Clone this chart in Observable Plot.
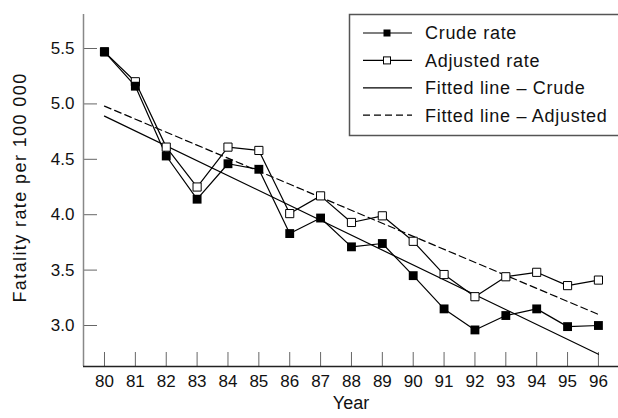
<!DOCTYPE html>
<html><head><meta charset="utf-8">
<script src="https://cdn.jsdelivr.net/npm/d3@7"></script>
<script src="https://cdn.jsdelivr.net/npm/@observablehq/plot@0.6"></script>
<style>body{margin:0;background:#fff;} #chart{position:relative;width:618px;height:418px;}</style>
</head><body><div id="chart"></div>
<script>
const years = [80,81,82,83,84,85,86,87,88,89,90,91,92,93,94,95,96];
const crudeRate = [5.47,5.16,4.53,4.14,4.46,4.41,3.83,3.97,3.71,3.74,3.45,3.15,2.96,3.09,3.15,2.99,3.00];
const adjustedRate = [5.47,5.20,4.61,4.25,4.61,4.58,4.01,4.17,3.93,3.99,3.76,3.46,3.26,3.44,3.48,3.36,3.41];
const fitYears = [80, 96];
const fitCrude = [4.89, 2.74];
const fitAdjusted = [4.98, 3.10];
const yTicks = [3.0, 3.5, 4.0, 4.5, 5.0, 5.5];
const legendLabels = ["Crude rate", "Adjusted rate", "Fitted line \u2013 Crude", "Fitted line \u2013 Adjusted"];
const xDomain = [79.32, 96.65];
const yDomain = [2.63, 5.807];

const rows = years.map((y, i) => ({year: y, crude: crudeRate[i], adjusted: adjustedRate[i]}));
const fit = fitYears.map((y, i) => ({year: y, crude: fitCrude[i], adjusted: fitAdjusted[i]}));

const W = 618, H = 418, mL = 83, mR = 0, mT = 14, mB = 52;
const font = "'Liberation Sans', Arial, sans-serif";

const plot = Plot.plot({
  width: W, height: H, marginLeft: mL, marginRight: mR, marginTop: mT, marginBottom: mB,
  style: {fontFamily: font, fontSize: "17px", color: "#111", background: "#fff", overflow: "visible"},
  x: {domain: xDomain},
  y: {domain: yDomain},
  marks: [
    Plot.tickX(years, {x: d => d, stroke: "#666", strokeWidth: 1, insetTop: (H - mT - mB) - 14}),
    Plot.tickY(yTicks, {y: d => d, stroke: "#666", strokeWidth: 1, insetRight: (W - mL - mR) - 14}),
    Plot.ruleX([xDomain[0]], {stroke: "#888", strokeWidth: 1.5}),
    Plot.ruleY([yDomain[0]], {stroke: "#222", strokeWidth: 1.5}),
    Plot.axisX({ticks: years, tickSize: 0, tickPadding: 8, tickFormat: d => String(d), fontSize: 17, label: null}),
    Plot.axisY({ticks: yTicks, tickSize: 0, tickPadding: 9, tickFormat: d3.format(".1f"), fontSize: 17, label: null}),
    Plot.line(fit, {x: "year", y: "crude", stroke: "#000", strokeWidth: 1.2}),
    Plot.line(fit, {x: "year", y: "adjusted", stroke: "#000", strokeWidth: 1.2, strokeDasharray: "7,4"}),
    Plot.line(rows, {x: "year", y: "adjusted", stroke: "#000", strokeWidth: 1.2}),
    Plot.line(rows, {x: "year", y: "crude", stroke: "#000", strokeWidth: 1.2}),
    Plot.dot(rows, {x: "year", y: "adjusted", symbol: "square", r: 4.6, fill: "#fff", stroke: "#000", strokeWidth: 1}),
    Plot.dot(rows, {x: "year", y: "crude", symbol: "square", r: 5, fill: "#000", stroke: "none"}),
    Plot.text(["Year"], {text: d => d, frameAnchor: "bottom", dy: 42, fontSize: 18, fill: "#111"}),
    Plot.text(["Fatality rate per 100 000"], {text: d => d, frameAnchor: "left", textAnchor: "middle", dx: -63, dy: -3, rotate: -90, fontSize: 18, fill: "#111", className: "ylabel"})
  ]
});

d3.select(plot).selectAll(".ylabel text").attr("letter-spacing", "1.4px");

// Legend
const svg = d3.select(plot);
const g = svg.append("g").attr("font-family", font).attr("font-size", 18).attr("fill", "#111").attr("text-anchor", "start");
g.append("rect").attr("x", 349.5).attr("y", 14.5).attr("width", 270).attr("height", 121)
  .attr("fill", "#fff").attr("stroke", "#555").attr("stroke-width", 1.5);
legendLabels.forEach((lab, i) => {
  const cy = 33 + i * 27.4;
  const row = g.append("g").attr("transform", `translate(0,${cy})`);
  row.append("line").attr("x1", 363).attr("x2", 412).attr("y1", 0).attr("y2", 0)
    .attr("stroke", "#000").attr("stroke-width", 1.2)
    .attr("stroke-dasharray", i === 3 ? "7,4" : null);
  if (i === 0) row.append("rect").attr("x", 383.5).attr("y", -3.5).attr("width", 7).attr("height", 7).attr("fill", "#000");
  if (i === 1) row.append("rect").attr("x", 383.5).attr("y", -3.5).attr("width", 7).attr("height", 7).attr("fill", "#fff").attr("stroke", "#000").attr("stroke-width", 1);
  row.append("text").attr("x", 425).attr("y", 0).attr("dy", "0.35em").attr("letter-spacing", "0.7px").text(lab);
});

document.getElementById("chart").appendChild(plot);
</script>
</body></html>
